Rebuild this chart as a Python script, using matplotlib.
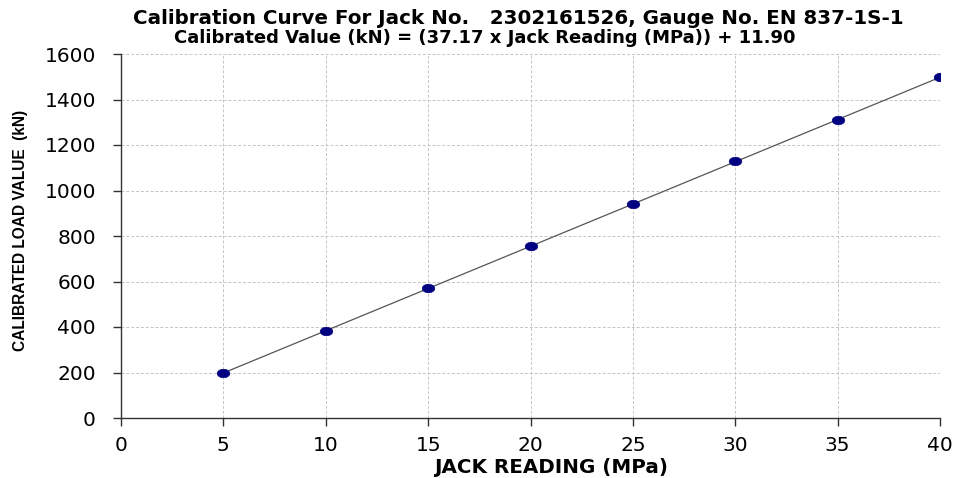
import matplotlib
matplotlib.use("Agg")
import matplotlib.pyplot as plt
from matplotlib.path import Path
import numpy as np

jack_reading = [5, 10, 15, 20, 25, 30, 35, 40]
load_value = [196, 384, 570, 757, 940, 1128, 1310, 1497]
x_ticks = [0, 5, 10, 15, 20, 25, 30, 35, 40]
y_ticks = [0, 200, 400, 600, 800, 1000, 1200, 1400, 1600]

title1 = "Calibration Curve For Jack No.   2302161526, Gauge No. EN 837-1S-1"
title2 = "Calibrated Value (kN) = (37.17 x Jack Reading (MPa)) + 11.90"

fig = plt.figure(figsize=(9.54, 4.78), dpi=100)
ax = fig.add_axes([121/954, 1-418/478, (940-121)/954, (418-54)/478])

# elliptical marker (wider than tall)
t = np.linspace(0, 2*np.pi, 41)
ellipse = Path(np.column_stack([np.cos(t), 0.68*np.sin(t)]), closed=True)

slope, intercept = np.polyfit(jack_reading, load_value, 1)
xs = np.array(jack_reading, dtype=float)
ax.plot(xs, slope*xs + intercept, color="#555555", lw=0.9, zorder=2)
ax.plot(jack_reading, load_value, linestyle="none", marker=ellipse, markersize=9,
        markerfacecolor="#000080", markeredgecolor="#000080", markeredgewidth=0.5,
        zorder=3)

ax.set_xlim(0, 40)
ax.set_ylim(0, 1600)
ax.set_xticks(x_ticks)
ax.set_yticks(y_ticks)
ax.grid(True, color="#c4c4c4", linestyle=(0, (3, 2)), linewidth=0.7)
for s in ["top", "right"]:
    ax.spines[s].set_visible(False)
for s in ["left", "bottom"]:
    ax.spines[s].set_color("#333333")
    ax.spines[s].set_linewidth(1.0)
ax.tick_params(direction="out", length=6, width=1, color="#333333",
               labelsize=14.5)
ax.tick_params(axis="y", pad=12)
ax.tick_params(axis="x", pad=7)
for lab in ax.get_xticklabels() + ax.get_yticklabels():
    lab.set_family("DejaVu Sans")

ax.set_xlabel("JACK READING (MPa)", fontsize=14.3, fontweight="bold",
              family="DejaVu Sans")
ax.xaxis.set_label_coords((551-121)/(940-121), -0.11)
ax.set_ylabel("CALIBRATED LOAD VALUE  (kN)", fontsize=11.2, fontweight="bold",
              family="Liberation Sans")
ax.yaxis.set_label_coords(-(121-28)/(940-121), 0.515)

fig.text(518/954, 1-18/478, title1, ha="center", va="center", fontsize=14.3,
         fontweight="bold", family="DejaVu Sans")
fig.text(485/954, 1-38/478, title2, ha="center", va="center", fontsize=13,
         fontweight="bold", family="DejaVu Sans")

fig.savefig("out.png", dpi=100)
